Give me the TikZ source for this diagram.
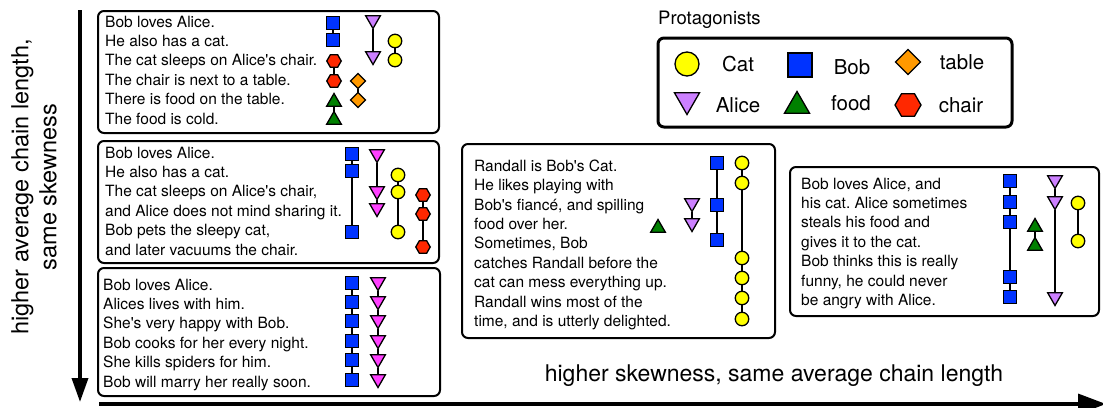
\documentclass[tikz,border=0pt]{standalone}
\usepackage{fontspec}
\setmainfont{TeX Gyre Heros}
\usetikzlibrary{shapes.geometric,arrows.meta}
\frenchspacing
\newcommand{\ap}{\textquotesingle}
\definecolor{bobc}{RGB}{0,51,255}
\definecolor{catc}{RGB}{255,255,0}
\definecolor{alicec}{RGB}{204,128,255}
\definecolor{alicem}{RGB}{255,64,255}
\definecolor{foodc}{RGB}{0,128,0}
\definecolor{tablec}{RGB}{255,153,0}
\definecolor{chairc}{RGB}{255,40,0}
\tikzset{
  sh/.style={draw=black, line width=1.3pt, inner sep=0pt, outer sep=0pt},
  bob/.style={sh, rectangle, fill=bobc, minimum size=13pt},
  cat/.style={sh, circle, fill=catc, minimum size=13.5pt},
  alice/.style={sh, regular polygon, regular polygon sides=3, shape border rotate=180, fill=alicec, minimum size=17pt},
  alicemag/.style={alice, fill=alicem},
  food/.style={sh, regular polygon, regular polygon sides=3, fill=foodc, minimum size=17pt},
  tbl/.style={sh, diamond, fill=tablec, minimum size=15pt},
  chair/.style={sh, regular polygon, regular polygon sides=6, fill=chairc, minimum size=14.5pt},
  link/.style={line width=1.5pt},
  box/.style={draw, line width=2pt, rounded corners=6pt},
  txt/.style={font=\fontsize{15.5}{19.4}\selectfont, align=left, anchor=north west, inner sep=0pt},
  axis/.style={line width=3.5pt, -{Triangle[length=24pt,width=16pt]}},
  legtxt/.style={font=\fontsize{20.5}{24}\selectfont, inner sep=0pt},
}
\begin{document}
\begin{tikzpicture}[x=1pt,y=-1pt]
\useasboundingbox (0,0) rectangle (1103,407);

% axes
\coordinate (vtop) at (80,10);
\coordinate (vbot) at (80,402);
\draw[axis] (vtop) -- (vbot);
\coordinate (hl) at (99,404);
\coordinate (hr) at (1106,404);
\draw[axis, -{Triangle[length=28pt,width=20pt]}] (hl) -- (hr);
\node[rotate=90, align=center, font=\fontsize{23.5}{28}\selectfont] (ylab) at (34,187) {higher average chain length,\\same skewness};
\node[font=\fontsize{23}{28}\selectfont] (xlab) at (774,376) {higher skewness, same average chain length};

% boxes
\draw[box] (98,11) rectangle (439,133);
\draw[box] (98,141) rectangle (439,263);
\draw[box] (98,268) rectangle (440,396);
\draw[box] (462,144) rectangle (775,338);
\draw[box] (790,167) rectangle (1099,316);

% box 1
\node[txt] (t1) at (105,15.5) {Bob loves Alice.\\He also has a cat.\\The cat sleeps on Alice\ap{}s chair.\\The chair is next to a table.\\There is food on the table.\\The food is cold.};
\node[bob] (b1a) at (333,23) {};
\node[bob] (b1b) at (333,40) {};
\node[alice] (a1a) at (373,20) {};
\node[alice] (a1b) at (373,56) {};
\node[cat] (c1a) at (395,41) {};
\node[cat] (c1b) at (395,60) {};
\node[chair] (h1a) at (334,61) {};
\node[chair] (h1b) at (334,81) {};
\node[tbl] (d1a) at (358,81) {};
\node[tbl] (d1b) at (358,100) {};
\node[food] (f1a) at (334,102) {};
\node[food] (f1b) at (334,120) {};
\draw[link] (b1a) -- (b1b);
\draw[link] (a1a) -- (a1b);
\draw[link] (c1a) -- (c1b);
\draw[link] (h1a) -- (h1b);
\draw[link] (d1a) -- (d1b);
\draw[link] (f1a) -- (f1b);

% box 2
\node[txt] (t2) at (105,146.5) {Bob loves Alice.\\He also has a cat.\\The cat sleeps on Alice\ap{}s chair,\\and Alice does not mind sharing it.\\Bob pets the sleepy cat,\\and later vacuums the chair.};
\node[bob] (b2a) at (352,154) {};
\node[bob] (b2b) at (352,171) {};
\node[bob] (b2c) at (352,232) {};
\node[alicemag] (a2a) at (377,154) {};
\node[alicemag] (a2b) at (377,191) {};
\node[alicemag] (a2c) at (377,208) {};
\node[cat] (c2a) at (398,175) {};
\node[cat] (c2b) at (398,192) {};
\node[cat] (c2c) at (398,232) {};
\node[chair] (h2a) at (423,195) {};
\node[chair] (h2b) at (423,214) {};
\node[chair] (h2c) at (423,247) {};
\draw[link] (b2a) -- (b2b) -- (b2c);
\draw[link] (a2a) -- (a2b) -- (a2c);
\draw[link] (c2a) -- (c2b) -- (c2c);
\draw[link] (h2a) -- (h2b) -- (h2c);

% box 3
\node[txt] (t3) at (103,278.5) {Bob loves Alice.\\Alices lives with him.\\She\ap{}s very happy with Bob.\\Bob cooks for her every night.\\She kills spiders for him.\\Bob will marry her really soon.};
\foreach \i/\yy in {1/283,2/302,3/321,4/341,5/360,6/380}{
  \node[bob] (b3\i) at (352,\yy) {};
  \node[alicemag] (a3\i) at (378,\yy-1) {};
}
\draw[link] (b31) -- (b32) -- (b33) -- (b34) -- (b35) -- (b36);
\draw[link] (a31) -- (a32) -- (a33) -- (a34) -- (a35) -- (a36);

% box 4
\node[txt] (t4) at (474,159.5) {Randall is Bob\ap{}s Cat.\\He likes playing with\\Bob\ap{}s fianc\'e, and spilling\\food over her.\\Sometimes, Bob\\catches Randall before the\\cat can mess everything up.\\Randall wins most of the\\time, and is utterly delighted.};
\node[bob] (b4a) at (717,163) {};
\node[bob] (b4b) at (717,205) {};
\node[bob] (b4c) at (717,240) {};
\node[cat] (c4a) at (742,163) {};
\node[cat] (c4b) at (742,183) {};
\node[cat] (c4c) at (742,258) {};
\node[cat] (c4d) at (742,278) {};
\node[cat] (c4e) at (742,298) {};
\node[cat] (c4f) at (742,319) {};
\node[alice] (a4a) at (692,203) {};
\node[alice] (a4b) at (692,223) {};
\node[food] (f4a) at (658,228) {};
\draw[link] (b4a) -- (b4b) -- (b4c);
\draw[link] (c4a) -- (c4b) -- (c4c) -- (c4d) -- (c4e) -- (c4f);
\draw[link] (a4a) -- (a4b);

% box 5
\node[txt] (t5) at (801,177.5) {Bob loves Alice, and\\his cat. Alice sometimes\\steals his food and\\gives it to the cat.\\Bob thinks this is really\\funny, he could never\\be angry with Alice.};
\node[bob] (b5a) at (1010,181) {};
\node[bob] (b5b) at (1010,202) {};
\node[bob] (b5c) at (1010,222) {};
\node[bob] (b5d) at (1010,277) {};
\node[bob] (b5e) at (1010,297) {};
\node[alice] (a5a) at (1055,180) {};
\node[alice] (a5b) at (1055,201) {};
\node[alice] (a5c) at (1055,297) {};
\node[food] (f5a) at (1035,227) {};
\node[food] (f5b) at (1035,246) {};
\node[cat] (c5a) at (1078,203) {};
\node[cat] (c5b) at (1078,241) {};
\draw[link] (b5a) -- (b5b) -- (b5c) -- (b5d) -- (b5e);
\draw[link] (a5a) -- (a5b) -- (a5c);
\draw[link] (f5a) -- (f5b);
\draw[link] (c5a) -- (c5b);

% legend
\node[anchor=west, inner sep=0pt, font=\fontsize{18.5}{22}\selectfont] (prot) at (658,20) {Protagonists};
\draw[box, line width=3pt] (658,38) rectangle (1012,127);
\node[cat, minimum size=24pt] (lcat) at (687,64) {};
\node[legtxt] (lcatt) at (738,64) {Cat};
\node[bob, minimum size=24pt] (lbob) at (800,65) {};
\node[legtxt] (lbobt) at (852,67) {Bob};
\node[tbl, minimum size=25pt] (ltbl) at (908,62) {};
\node[legtxt] (ltblt) at (962,62) {table};
\node[alice, minimum size=29pt] (lal) at (687,100) {};
\node[legtxt] (lalt) at (738,105) {Alice};
\node[food, minimum size=29pt] (lfood) at (797,106) {};
\node[legtxt] (lfoodt) at (851,103) {food};
\node[chair, minimum size=26pt] (lch) at (908,105) {};
\node[legtxt] (lcht) at (961,105) {chair};
\end{tikzpicture}
\end{document}
